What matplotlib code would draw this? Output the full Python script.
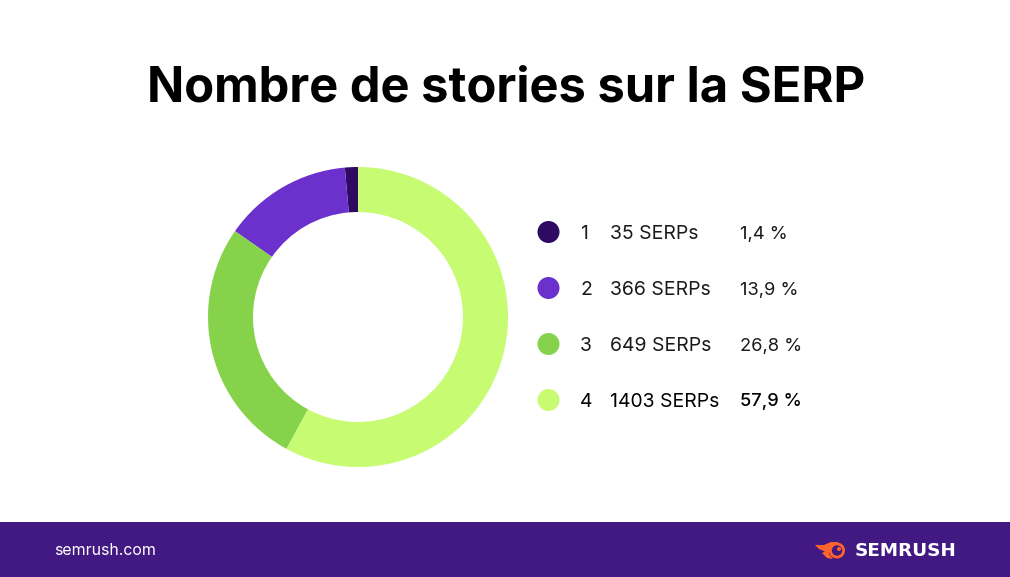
import matplotlib
matplotlib.use('Agg')
import matplotlib.pyplot as plt
from matplotlib.patches import Rectangle, Circle, Polygon

stories = ['1', '2', '3', '4']
serp_labels = ['35 SERPs', '366 SERPs', '649 SERPs', '1403 SERPs']
pct_labels = ['1,4 %', '13,9 %', '26,8 %', '57,9 %']
shares = [1.4, 13.9, 26.8, 57.9]
colors = ['#2E0A63', '#6C30CC', '#86D34B', '#C6FB72']
title = 'Nombre de stories sur la SERP'
FONT = ['Inter', 'DejaVu Sans']
W, H = 1010, 577
PURPLE = '#421983'
ORANGE = '#FF642D'

fig = plt.figure(figsize=(W/100, H/100), dpi=100, facecolor='white')
bg = fig.add_axes([0, 0, 1, 1])
bg.set_xlim(0, W); bg.set_ylim(H, 0); bg.axis('off')
bg.add_patch(Rectangle((0, 522), W, 55, color=PURPLE, lw=0))
bg.text(506, 89, title, ha='center', va='center', fontsize=35.2, fontweight='bold', family=FONT, color='#000000')
bg.text(54.5, 550.5, 'semrush.com', ha='left', va='center', fontsize=11.45, family=FONT, color='white')
bg.text(956, 551, 'SEMRUSH', ha='right', va='center', fontsize=13.2, fontweight='bold',
        family=['DejaVu Sans'], color='white')
bg.add_patch(Polygon([(815, 545), (824, 545), (831, 542), (838, 542), (831, 548), (829, 554),
                      (833, 559), (827, 558), (822, 553), (825, 551.5), (819, 549)],
                     color=ORANGE, lw=0))
bg.add_patch(Circle((837, 550.5), 8, color=ORANGE, lw=0))
bg.add_patch(Circle((837, 550.5), 5.2, color=PURPLE, lw=0))
bg.add_patch(Circle((839, 549), 2, color=ORANGE, lw=0))

for i, y in enumerate([232, 288, 344, 400]):
    bg.add_patch(Circle((548.5, y), 11, color=colors[i], lw=0))
    c = '#000000' if i == 3 else '#1A1A1A'
    bg.text(580, y + 2, stories[i], ha='left', va='center', fontsize=13.9, family=FONT, color=c)
    bg.text(610, y + 2, serp_labels[i], ha='left', va='center', fontsize=13.95, family=FONT, color=c)
    bg.text(740, y + 2, pct_labels[i], ha='left', va='center', fontsize=13.2, family=FONT, color=c,
            fontweight='medium' if i == 3 else 'normal')

cx, cy, r = 358, 317, 150
ax = fig.add_axes([(cx-r)/W, 1-(cy+r)/H, 2*r/W, 2*r/H])
ax.pie(shares, colors=colors, startangle=90, counterclock=True, radius=1,
       wedgeprops=dict(width=45/150, linewidth=0))
ax.set_xlim(-1, 1); ax.set_ylim(-1, 1)
fig.savefig('out.png', dpi=100, facecolor='white')
